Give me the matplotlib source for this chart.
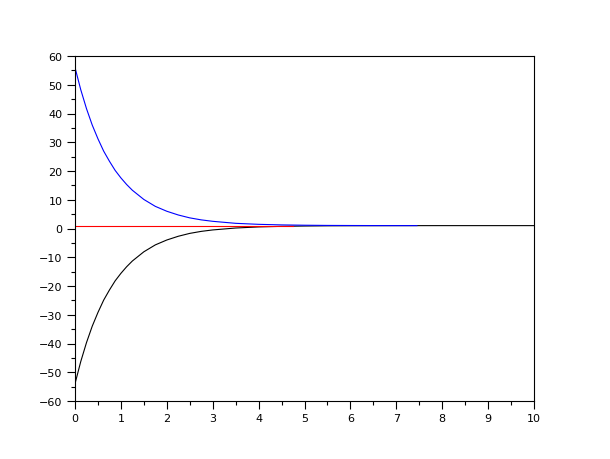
import matplotlib
matplotlib.use("Agg")
import matplotlib.pyplot as plt
from matplotlib.ticker import MultipleLocator

# Values
x_blue = [0, 0.125, 0.25, 0.375, 0.5, 0.625, 0.75, 0.875, 1.0, 1.125, 1.25, 1.5, 1.75, 2.0,
          2.25, 2.5, 2.75, 3.0, 3.5, 4.0, 4.5, 5.0, 5.5, 6.0, 6.5, 7.0, 7.45]
y_blue = [56.0, 48.3, 41.7, 36.0, 31.2, 26.9, 23.4, 20.2, 17.6, 15.3, 13.3, 10.1, 7.7, 6.0,
          4.7, 3.7, 3.0, 2.5, 1.8, 1.45, 1.25, 1.14, 1.07, 1.04, 1.02, 1.01, 1.01]

x_black = [0, 0.125, 0.25, 0.375, 0.5, 0.625, 0.75, 0.875, 1.0, 1.125, 1.25, 1.5, 1.75, 2.0,
           2.25, 2.5, 2.75, 3.0, 3.5, 4.0, 4.5, 5.0, 5.5, 6.0, 7.0, 8.0, 9.0, 10.0]
y_black = [-54.0, -46.3, -39.7, -34.0, -29.2, -24.9, -21.4, -18.2, -15.6, -13.3, -11.3, -8.1, -5.7, -4.0,
           -2.7, -1.7, -1.0, -0.5, 0.17, 0.55, 0.75, 0.86, 0.93, 0.96, 0.99, 1.0, 1.0, 1.0]

x_red = [0, 4.75]
y_red = [1.0, 1.0]

fig = plt.figure(figsize=(6.1, 4.6), dpi=100)
ax = fig.add_axes([75/610, 58/460, (534-75)/610, (402-57)/460])

ax.plot(x_black, y_black, color="black", lw=0.8)
ax.plot(x_red, y_red, color="red", lw=0.8)
ax.plot(x_blue, y_blue, color="blue", lw=0.8)

ax.set_xlim(0, 10)
ax.set_ylim(-60, 60)
ax.xaxis.set_major_locator(MultipleLocator(1))
ax.xaxis.set_minor_locator(MultipleLocator(0.5))
ax.yaxis.set_major_locator(MultipleLocator(10))
ax.yaxis.set_minor_locator(MultipleLocator(5))
ax.tick_params(which="major", direction="out", length=6, width=0.8, labelsize=8, pad=3)
ax.tick_params(which="minor", direction="out", length=3, width=0.8)
for s in ax.spines.values():
    s.set_linewidth(0.8)

fig.savefig("out.png", dpi=100)
